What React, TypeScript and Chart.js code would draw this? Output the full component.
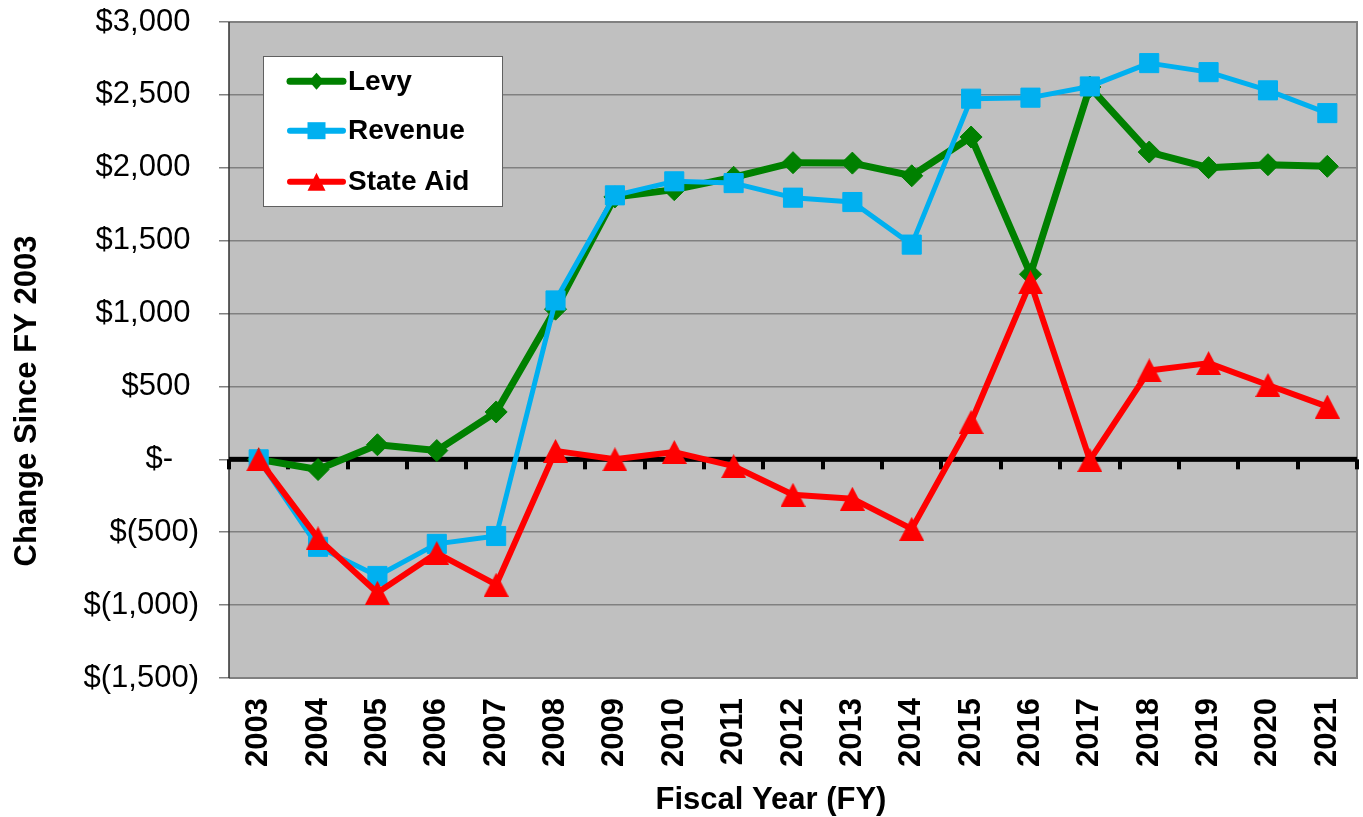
import React, { useEffect, useRef } from 'react';
import { Chart, registerables } from 'chart.js';

Chart.register(...registerables);

// ---- data ----
const years = ['2003', '2004', '2005', '2006', '2007', '2008', '2009', '2010', '2011', '2012', '2013', '2014', '2015', '2016', '2017', '2018', '2019', '2020', '2021'];
const levy = [0, -70, 100, 60, 325, 1030, 1800, 1850, 1935, 2035, 2032, 1945, 2211, 1270, 2554, 2108, 2001, 2021, 2010];
const revenue = [0, -600, -800, -580, -526, 1090, 1811, 1907, 1895, 1795, 1765, 1473, 2474, 2481, 2558, 2718, 2656, 2531, 2375];
const stateAid = [0, -542, -915, -643, -860, 58, 0, 50, -47, -243, -270, -477, 256, 1214, -5, 610, 660, 510, 362];
const yTickLabels = ['$(1,500)', '$(1,000)', '$(500)', '$-', '$500', '$1,000', '$1,500', '$2,000', '$2,500', '$3,000'];
const seriesNames = ['Levy', 'Revenue', 'State Aid'];
const seriesColors = ['#008000', '#00B0F0', '#FF0000'];
const xTitle = 'Fiscal Year (FY)';
const yTitle = 'Change Since FY 2003';
const Y_MIN = -1500;
const Y_MAX = 3000;
const Y_STEP = 500;

const FONT = "'Liberation Sans', Arial, Helvetica, sans-serif";

function makeTriangle(color: string, w: number, h: number) {
  const c = document.createElement('canvas');
  c.width = w;
  c.height = h;
  const g = c.getContext('2d')!;
  g.fillStyle = color;
  g.beginPath();
  g.moveTo(w / 2, 0);
  g.lineTo(w, h);
  g.lineTo(0, h);
  g.closePath();
  g.fill();
  return c;
}

function drawMarker(ctx: CanvasRenderingContext2D, kind: string, x: number, y: number, w: number, h: number, color: string) {
  ctx.fillStyle = color;
  ctx.beginPath();
  if (kind === 'diamond') {
    ctx.moveTo(x, y - h / 2);
    ctx.lineTo(x + w / 2, y);
    ctx.lineTo(x, y + h / 2);
    ctx.lineTo(x - w / 2, y);
  } else if (kind === 'square') {
    ctx.rect(x - w / 2, y - h / 2, w, h);
  } else {
    ctx.moveTo(x, y - h / 2);
    ctx.lineTo(x + w / 2, y + h / 2);
    ctx.lineTo(x - w / 2, y + h / 2);
  }
  ctx.closePath();
  ctx.fill();
}

const decor = {
  id: 'decor',
  beforeDraw(chart: any) {
    const { ctx, chartArea: a } = chart;
    ctx.save();
    ctx.fillStyle = '#C0C0C0';
    ctx.fillRect(a.left, a.top, a.right - a.left, a.bottom - a.top);
    ctx.restore();
  },
  beforeDatasetsDraw(chart: any) {
    const { ctx, chartArea: a } = chart;
    const yScale = chart.scales.y;
    ctx.save();
    // plot border
    ctx.strokeStyle = '#808080';
    ctx.lineWidth = 2;
    ctx.beginPath();
    ctx.moveTo(a.left, a.top);
    ctx.lineTo(a.right, a.top);
    ctx.lineTo(a.right, a.bottom);
    ctx.lineTo(a.left, a.bottom);
    ctx.stroke();
    ctx.strokeStyle = '#303030';
    ctx.lineWidth = 1.5;
    ctx.beginPath();
    ctx.moveTo(a.left, a.top);
    ctx.lineTo(a.left, a.bottom);
    ctx.stroke();
    // zero axis line with category tick marks
    const y0 = yScale.getPixelForValue(0);
    ctx.fillStyle = '#000';
    ctx.fillRect(a.left, y0 - 2.5, a.right - a.left, 5);
    const n = years.length;
    const step = (a.right - a.left) / n;
    for (let i = 0; i <= n; i++) {
      const x = a.left + i * step;
      ctx.fillRect(Math.round(x - 2), y0, 4, 10);
    }
    ctx.restore();
  },
  afterDraw(chart: any) {
    const { ctx, chartArea: a } = chart;
    ctx.save();
    // legend box
    const bx = a.left + 34;
    const by = a.top + 34;
    const bw = 239;
    const bh = 150;
    ctx.fillStyle = '#fff';
    ctx.fillRect(bx, by, bw, bh);
    ctx.strokeStyle = '#606060';
    ctx.lineWidth = 1;
    ctx.strokeRect(bx + 0.5, by + 0.5, bw, bh);
    const rows = [25.3, 74.7, 125.7];
    const widths = [7, 6, 6];
    const kinds = ['diamond', 'square', 'triangle'];
    const msz = [[15, 17], [18, 17], [18, 18]];
    ctx.lineCap = 'round';
    for (let i = 0; i < 3; i++) {
      const ry = by + rows[i];
      ctx.strokeStyle = seriesColors[i];
      ctx.lineWidth = widths[i];
      ctx.beginPath();
      ctx.moveTo(bx + 27, ry);
      ctx.lineTo(bx + 80, ry);
      ctx.stroke();
      drawMarker(ctx, kinds[i], bx + 53.5, ry, msz[i][0], msz[i][1], seriesColors[i]);
      ctx.fillStyle = '#000';
      ctx.font = `bold 28px ${FONT}`;
      ctx.textAlign = 'left';
      ctx.textBaseline = 'middle';
      ctx.fillText(seriesNames[i], bx + 85, ry + 1);
    }
    // axis titles
    ctx.fillStyle = '#000';
    ctx.font = `bold 31px ${FONT}`;
    ctx.textAlign = 'center';
    ctx.textBaseline = 'alphabetic';
    ctx.fillText(xTitle, 771, 809);
    ctx.save();
    ctx.translate(36, 401);
    ctx.rotate(-Math.PI / 2);
    ctx.fillText(yTitle, 0, 0);
    ctx.restore();
    ctx.restore();
  },
};

export default function App() {
  const ref = useRef<HTMLCanvasElement>(null);
  useEffect(() => {
    const canvas = ref.current!;
    const tri = makeTriangle(seriesColors[2], 25, 24);
    const chart = new Chart(canvas, {
      type: 'line',
      data: {
        labels: years,
        datasets: [
          {
            label: seriesNames[0],
            data: levy,
            borderColor: seriesColors[0],
            backgroundColor: seriesColors[0],
            borderWidth: 7,
            borderJoinStyle: 'round',
            borderCapStyle: 'round',
            pointStyle: 'rectRot',
            pointRadius: 11,
            pointBorderWidth: 1,
            pointBackgroundColor: seriesColors[0],
            pointBorderColor: seriesColors[0],
            order: 2,
          },
          {
            label: seriesNames[1],
            data: revenue,
            borderColor: seriesColors[1],
            backgroundColor: seriesColors[1],
            borderWidth: 5,
            borderJoinStyle: 'round',
            borderCapStyle: 'round',
            pointStyle: 'rect',
            pointRadius: 13.5,
            pointBorderWidth: 1,
            pointBackgroundColor: seriesColors[1],
            pointBorderColor: seriesColors[1],
            order: 1,
          },
          {
            label: seriesNames[2],
            data: stateAid,
            borderColor: seriesColors[2],
            backgroundColor: seriesColors[2],
            borderWidth: 6,
            borderJoinStyle: 'round',
            borderCapStyle: 'round',
            pointStyle: tri,
            pointRadius: 12,
            order: 0,
          },
        ],
      } as any,
      options: {
        responsive: false,
        animation: false,
        devicePixelRatio: 1,
        layout: { autoPadding: false, padding: { top: 22, right: 6, left: 0, bottom: 0 } },
        plugins: {
          legend: { display: false },
          tooltip: { enabled: false },
          title: { display: false },
        },
        scales: {
          x: {
            type: 'category',
            offset: true,
            grid: { display: false, drawTicks: false },
            border: { display: false },
            ticks: {
              autoSkip: false,
              maxRotation: 90,
              minRotation: 90,
              padding: 20,
              color: '#000',
              font: { family: FONT, size: 31, weight: 'bold' },
            },
            afterFit: (s: any) => {
              s.height = 139;
              s.paddingLeft = 0;
              s.paddingRight = 0;
            },
          },
          y: {
            min: Y_MIN,
            max: Y_MAX,
            ticks: {
              stepSize: Y_STEP,
              padding: 20,
              color: '#000',
              font: { family: FONT, size: 31 },
              callback: (v: any) => {
                const idx = Math.round((Number(v) - Y_MIN) / Y_STEP);
                const lab = yTickLabels[idx] ?? '';
                if (lab.endsWith(')')) return lab;
                if (lab === '$-') return lab + '   ';
                return lab + ' ';
              },
            },
            grid: {
              color: '#808080',
              lineWidth: 1.5,
              tickLength: 10,
              tickColor: '#808080',
              tickWidth: 1.5,
              drawTicks: true,
            },
            border: { display: false },
            afterFit: (s: any) => {
              s.width = 229;
              s.paddingTop = 0;
              s.paddingBottom = 0;
            },
          },
        },
      } as any,
      plugins: [decor],
    });
    return () => chart.destroy();
  }, []);
  return (
    <div style={{ position: 'absolute', left: 0, top: 0, width: 1363, height: 817, background: '#fff' }}>
      <canvas ref={ref} width={1363} height={817} style={{ display: 'block', width: 1363, height: 817 }} />
    </div>
  );
}
